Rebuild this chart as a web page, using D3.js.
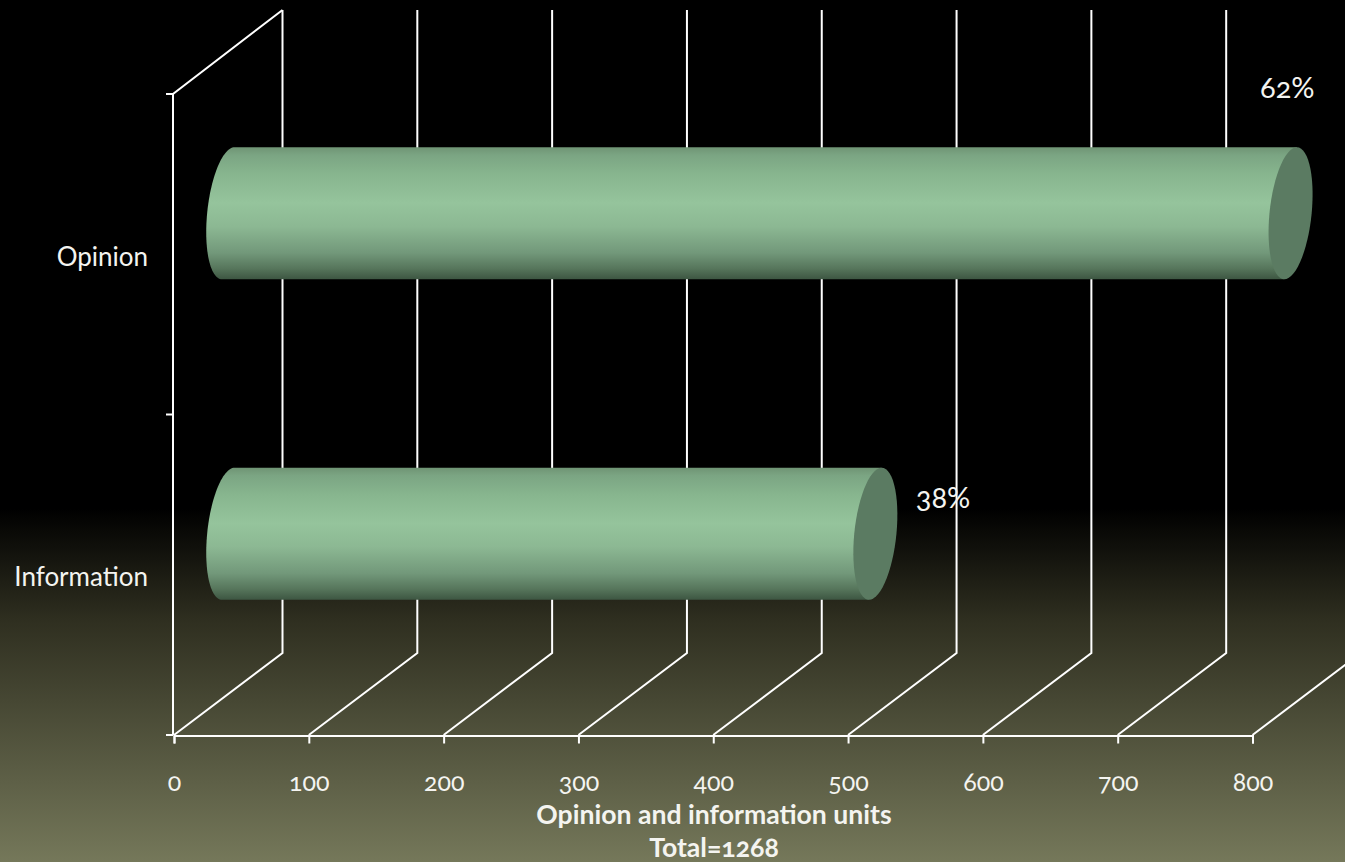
<!DOCTYPE html>
<html>
<head>
<meta charset="utf-8">
<script src="https://cdn.jsdelivr.net/npm/d3@7/dist/d3.min.js"></script>
<style>
html,body{margin:0;padding:0;background:#000;overflow:hidden}
text{font-family:Lato,"Open Sans","Noto Sans",sans-serif;fill:#f4f4f0;font-variant-numeric:oldstyle-nums;font-feature-settings:"onum" 1}
</style>
</head>
<body>
<svg id="chart" width="1345" height="862"></svg>
<script>
// Units coded as opinion or information
const categories = ["Opinion", "Information"];
const unitCounts = [788, 480];
const shareLabels = ["62%", "38%"];
const xTicks = [0, 100, 200, 300, 400, 500, 600, 700, 800];
const axisTitle = ["Opinion and information units", "Total=1268"];

const W = 1345, H = 862;
const svg = d3.select("#chart");
const defs = svg.append("defs");

// Page background: black fading to olive toward the bottom
const bg = defs.append("linearGradient").attr("id", "page")
  .attr("x1", 0).attr("y1", 0).attr("x2", 0).attr("y2", 1);
[[0, "#000000"], [0.59, "#000000"], [0.72, "#2f2f20"], [1, "#75785a"]]
  .forEach(([o, c]) => bg.append("stop").attr("offset", o).attr("stop-color", c));
svg.append("rect").attr("width", W).attr("height", H).attr("fill", "url(#page)");

// Cylinder side shading, lit just above the middle
const side = defs.append("linearGradient").attr("id", "side")
  .attr("x1", 0).attr("y1", 0).attr("x2", 0).attr("y2", 1);
[[0, "#6f9474"], [0.06, "#7ba583"], [0.2, "#87b58e"], [0.42, "#95c49c"], [0.6, "#8cb893"],
 [0.8, "#72987a"], [0.92, "#56755b"], [1, "#3d5642"]]
  .forEach(([o, c]) => side.append("stop").attr("offset", o).attr("stop-color", c));

const x = d3.scaleLinear().domain([0, 800]).range([174, 1252.5]);
const y = d3.scaleBand().domain(categories).range([94, 735]);

// Oblique offset of the back wall from the front plane
const depthX = 108.5, depthY = -82;
const wallTop = y.range()[0] + depthY - 2;
const floorY = y.range()[1];

const grid = svg.append("g").attr("fill", "none").attr("stroke", "#fff").attr("stroke-width", 2);
const gridLine = d3.line();

// Floor diagonals with the wall verticals rising from them
xTicks.forEach(t => {
  const fx = x(t);
  grid.append("path").attr("d", gridLine([
    [fx, floorY], [fx + depthX, floorY + depthY], [fx + depthX, wallTop]
  ]));
});
// Left wall: front vertical and top diagonal
grid.append("path").attr("d", gridLine([
  [x(0) - 1, floorY], [x(0) - 1, y.range()[0]], [x(0) + depthX, wallTop]
]));

// Category ticks on the left wall
[94, y("Information"), floorY].forEach(v => {
  grid.append("path").attr("d", gridLine([[x(0) - 8, v], [x(0) - 1, v]]));
});

// Value axis along the front of the floor
const axis = svg.append("g").attr("transform", `translate(0,${floorY + 0.5})`)
  .call(d3.axisBottom(x).tickValues(xTicks).tickSize(8).tickPadding(26).tickFormat(d3.format("d")));
axis.select(".domain").attr("stroke", "#fff").attr("stroke-width", 2);
axis.selectAll(".tick line").attr("stroke", "#fff").attr("stroke-width", 2);
axis.selectAll(".tick text").attr("font-size", 25).attr("fill", "#f4f4f0")
  .attr("font-family", null).attr("dy", "0.32em").attr("y", 47);

// Category labels
svg.append("g").selectAll("text").data(categories).join("text")
  .attr("x", 148).attr("y", d => y(d) + y.bandwidth() / 2 + 5)
  .attr("text-anchor", "end").attr("dominant-baseline", "middle")
  .attr("font-size", 26).text(d => d);

// Tilted ellipse at the ends of each cylinder
const capRy = 66, capLean = 6.3, capRx = 21.1;
function capPoint(cx, cy, a) {
  return [cx + capLean * Math.cos(a) + capRx * Math.sin(a), cy - capRy * Math.cos(a)];
}
function capArc(cx, cy, from, to) {
  return d3.range(0, 61).map(i => capPoint(cx, cy, from + (to - from) * i / 60));
}
const cylinderLine = d3.line();

const bars = svg.append("g").selectAll("g").data(categories).join("g");
bars.each(function(cat, i) {
  const g = d3.select(this);
  const cy = y(cat) + y.bandwidth() / 2 + depthY / 2;
  const cx0 = x(0) + depthX / 2;
  const cx1 = x(unitCounts[i]) + depthX / 2;
  // Body: straight along the top and bottom, with the bulge on the left
  const body = [capPoint(cx1, cy, 0), capPoint(cx1, cy, Math.PI),
    ...capArc(cx0, cy, Math.PI, 2 * Math.PI)];
  g.append("path").attr("d", cylinderLine(body) + "Z").attr("fill", "url(#side)");
  g.append("path").attr("d", cylinderLine(capArc(cx1, cy, 0, Math.PI * 2)) + "Z").attr("fill", "#5b7b62");
});

// Share labels beyond the far ends
svg.append("g").selectAll("text").data(categories).join("text")
  .attr("x", (d, i) => x(unitCounts[i]) + [51, 122][i])
  .attr("y", (d, i) => [98, 508][i])
  .attr("text-anchor", "middle").attr("font-size", 29)
  .text((d, i) => shareLabels[i]);

// Axis title
svg.append("g").selectAll("text").data(axisTitle).join("text")
  .attr("x", 714).attr("y", (d, i) => 824 + i * 33)
  .attr("text-anchor", "middle").attr("font-size", 26.6).attr("font-weight", 700)
  .text(d => d);
</script>
</body>
</html>
